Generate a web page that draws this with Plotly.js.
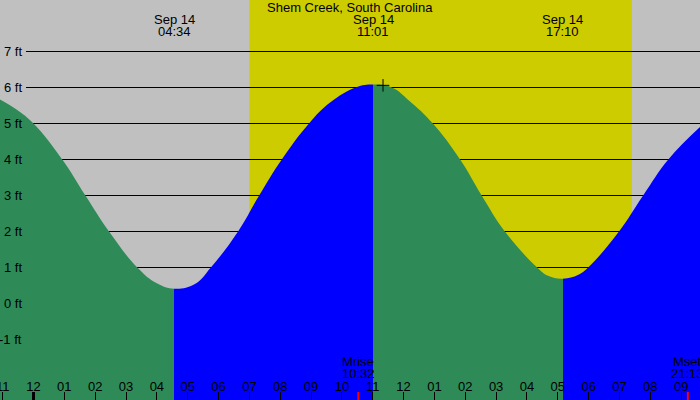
<!DOCTYPE html>
<html>
<head>
<meta charset="utf-8">
<script src="https://cdn.plot.ly/plotly-3.0.1.min.js"></script>
<style>
  html, body { margin: 0; padding: 0; background: #c0c0c0; }
  #tide { width: 700px; height: 400px; }
</style>
</head>
<body>
<div id="tide"></div>
<script>
// tide heights (ft)
const tideTimes = [
  '2023-09-13 22:54:50', '2023-09-13 23:27', '2023-09-14 00:00', '2023-09-14 00:56',
  '2023-09-14 01:41', '2023-09-14 02:27', '2023-09-14 03:22', '2023-09-14 04:00',
  '2023-09-14 04:34', '2023-09-14 05:14', '2023-09-14 05:45', '2023-09-14 06:38',
  '2023-09-14 07:19', '2023-09-14 08:03', '2023-09-14 08:56', '2023-09-14 09:37',
  '2023-09-14 10:27', '2023-09-14 11:01', '2023-09-14 11:37', '2023-09-14 12:12',
  '2023-09-14 12:57', '2023-09-14 13:50', '2023-09-14 14:32', '2023-09-14 15:17',
  '2023-09-14 16:20', '2023-09-14 16:41', '2023-09-14 17:10', '2023-09-14 17:40',
  '2023-09-14 17:59', '2023-09-14 18:59', '2023-09-14 19:46', '2023-09-14 20:35',
  '2023-09-14 21:36:40'
];
const tideFeet = [
  5.67, 5.39, 5.0, 4.0,
  3.0, 2.0, 1.0, 0.56,
  0.41, 0.54, 1.0, 2.0,
  3.0, 4.0, 5.0, 5.58,
  6.0, 6.08, 6.0, 5.62,
  5.0, 4.0, 3.0, 2.0,
  1.0, 0.77, 0.69, 0.80,
  1.0, 2.0, 3.0, 4.0,
  4.9
];

// highs and lows
const eventTimes = ['2023-09-13 22:24', '2023-09-14 04:34', '2023-09-14 11:01', '2023-09-14 17:10'];
const eventDates = ['Sep 13', 'Sep 14', 'Sep 14', 'Sep 14'];
const eventClock = ['22:24', '04:34', '11:01', '17:10'];

// moon rise / set
const moonTimes = ['2023-09-14 10:32', '2023-09-14 21:13'];
const moonNames = ['Mrise', 'Mset'];
const moonClock = ['10:32', '21:13'];

const sunrise = '2023-09-14 07:00';
const sunset = '2023-09-14 19:24';
const midnight = '2023-09-14 00:00';
const nowTime = ['2023-09-14 11:20'];
const nowFeet = [6.06];

const ftTicks = [-1, 0, 1, 2, 3, 4, 5, 6, 7];
const title = 'Shem Creek, South Carolina';

const W = 700, H = 400;
const yMax = 8.4306, yMin = yMax - 400 / 36;
const FONT = 'Liberation Sans, Arial, sans-serif';
const GREEN = '#2e8b57', BLUE = '#0000ff';

// falling water green, rising water blue: hard colour stops at each low / high
const ms = s => Date.parse(s.replace(' ', 'T') + 'Z');
const t0 = ms(tideTimes[0]), tN = ms(tideTimes[tideTimes.length - 1]);
const colorscale = [[0, GREEN]];
let cur = GREEN;
eventTimes.forEach(t => {
  const f = (ms(t) - t0) / (tN - t0);
  if (f <= 0 || f >= 1) return;
  const next = cur === GREEN ? BLUE : GREEN;
  colorscale.push([f, cur], [f, next]);
  cur = next;
});
colorscale.push([1, cur]);

const traces = [{
  x: [tideTimes[0], tideTimes[tideTimes.length - 1]], y: [yMin - 1, yMin - 1],
  mode: 'lines', line: {width: 0}, hoverinfo: 'skip', showlegend: false
}, {
  x: tideTimes, y: tideFeet, mode: 'lines',
  line: {shape: 'spline', smoothing: 1.2, width: 0},
  fill: 'tonexty', fillcolor: GREEN,
  fillgradient: {type: 'horizontal', colorscale: colorscale},
  hoverinfo: 'skip', showlegend: false
}, {
  x: nowTime, y: nowFeet, mode: 'markers',
  marker: {symbol: 'cross-thin', size: 9, line: {width: 1, color: '#000'}},
  hoverinfo: 'skip', showlegend: false
}];

const py = px => 1 - px / H;

const shapes = [{
  type: 'rect', xref: 'x', yref: 'paper', x0: sunrise, x1: sunset, y0: 0, y1: 1,
  fillcolor: '#cccc00', line: {width: 0}, layer: 'below'
}];
ftTicks.forEach(v => shapes.push({
  type: 'line', xref: 'paper', x0: 26 / W, x1: 1, yref: 'y', y0: v, y1: v,
  line: {color: '#000', width: 1}, layer: 'below'
}));
shapes.push({
  type: 'line', xref: 'x', x0: midnight, x1: midnight,
  yref: 'paper', ysizemode: 'pixel', yanchor: 0, y0: 0, y1: 8,
  line: {color: '#000', width: 3}
});
moonTimes.forEach(t => shapes.push({
  type: 'line', xref: 'x', x0: t, x1: t,
  yref: 'paper', ysizemode: 'pixel', yanchor: 0, y0: 0, y1: 8,
  line: {color: '#ff0000', width: 2}
}));

const txt = {family: FONT, size: 13, color: '#000'};
const annotations = [{
  text: title, xref: 'paper', yref: 'paper', x: 0.5, y: py(7.5),
  xanchor: 'center', yanchor: 'middle', showarrow: false, font: txt
}];
ftTicks.forEach(v => annotations.push({
  text: v + ' ft', xref: 'paper', yref: 'y', x: 24 / W, y: v,
  xanchor: 'right', yanchor: 'middle', showarrow: false, font: txt
}));
eventTimes.forEach((t, i) => {
  annotations.push({text: eventDates[i], xref: 'x', yref: 'paper', x: t, y: py(19.5),
    xanchor: 'center', yanchor: 'middle', showarrow: false, font: txt});
  annotations.push({text: eventClock[i], xref: 'x', yref: 'paper', x: t, y: py(32),
    xanchor: 'center', yanchor: 'middle', showarrow: false, font: txt});
});
moonTimes.forEach((t, i) => {
  annotations.push({text: moonNames[i], xref: 'x', yref: 'paper', x: t, y: py(361.5),
    xanchor: 'center', yanchor: 'middle', showarrow: false, font: txt});
  annotations.push({text: moonClock[i], xref: 'x', yref: 'paper', x: t, y: py(373.5),
    xanchor: 'center', yanchor: 'middle', showarrow: false, font: txt});
});

const layout = {
  width: W, height: H,
  margin: {l: 0, r: 0, t: 0, b: 0, pad: 0},
  paper_bgcolor: '#c0c0c0', plot_bgcolor: '#c0c0c0',
  showlegend: false,
  xaxis: {
    type: 'date', range: [tideTimes[0], tideTimes[tideTimes.length - 1]],
    showgrid: false, zeroline: false, showline: false,
    ticks: 'inside', ticklen: 8, tickwidth: 1, tickcolor: '#000',
    tick0: midnight, dtick: 3600000, tickformat: '%I',
    ticklabelposition: 'inside', ticklabeloverflow: 'allow', ticklabelstandoff: -2,
    tickfont: txt, fixedrange: true
  },
  yaxis: {
    range: [yMin, yMax], showgrid: false, zeroline: false,
    showticklabels: false, ticks: '', showline: false, fixedrange: true
  },
  shapes: shapes,
  annotations: annotations
};

Plotly.newPlot('tide', traces, layout, {displayModeBar: false, staticPlot: true});
</script>
</body>
</html>
